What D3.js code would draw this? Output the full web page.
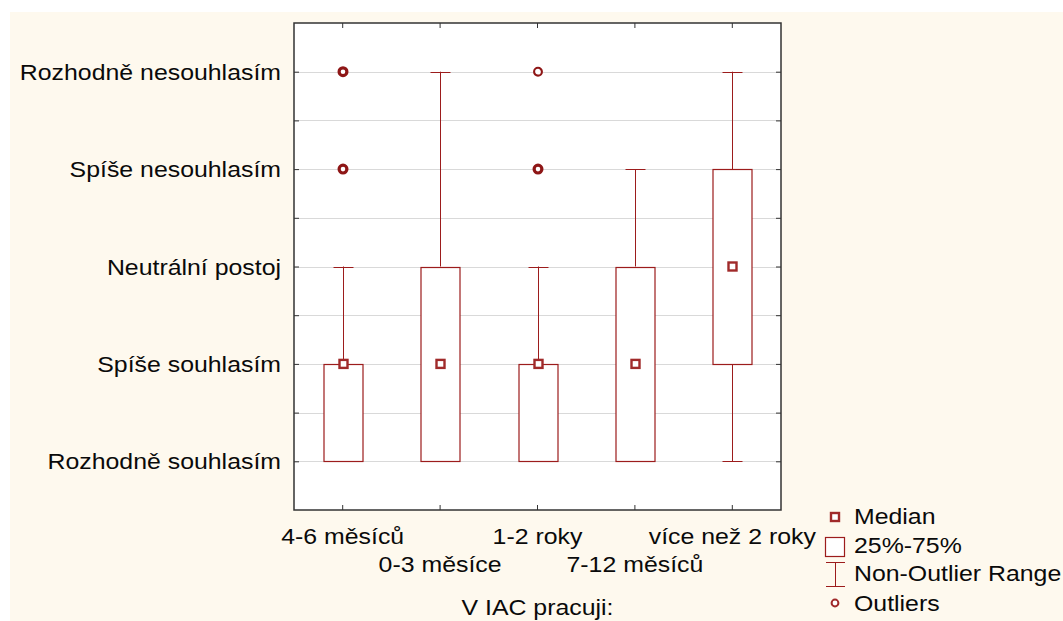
<!DOCTYPE html>
<html>
<head>
<meta charset="utf-8">
<script src="https://cdn.jsdelivr.net/npm/d3@7"></script>
<style>
  body { margin: 0; background: #fff; }
  text { font-family: "Liberation Sans", Arial, sans-serif; fill: #0a0a0a; }
</style>
</head>
<body>
<div id="chart"></div>
<script>
// categories on x, ordinal answers on y (1 = Rozhodně souhlasím ... 5 = Rozhodně nesouhlasím)
var categories = ["4-6 měsíců", "0-3 měsíce", "1-2 roky", "7-12 měsíců", "více než 2 roky"];
var levelLabels = ["Rozhodně souhlasím", "Spíše souhlasím", "Neutrální postoj", "Spíše nesouhlasím", "Rozhodně nesouhlasím"];
var levelValues = [1, 2, 3, 4, 5];
var medians = [2, 2, 2, 2, 3];
var q1 = [1, 1, 1, 1, 2];
var q3 = [2, 3, 2, 3, 4];
var whiskerLow = [1, 1, 1, 1, 1];
var whiskerHigh = [3, 5, 3, 4, 5];
var outliers = [[4, 4, 5, 5], [], [4, 4, 5], [], []];
var legendLabels = ["Median", "25%-75%", "Non-Outlier Range", "Outliers"];
var xTitle = "V IAC pracuji:";

var W = 1063, H = 621;
var margin = { top: 23, right: 282, bottom: 111, left: 294 };
var width = W - margin.left - margin.right;
var height = H - margin.top - margin.bottom;
var red = "#9c1c1c";
var fontSize = 22;
var stretch = 1.13;

var svg = d3.select("#chart").append("svg")
    .attr("width", W)
    .attr("height", H);

svg.append("rect").attr("width", W).attr("height", H).attr("fill", "#fff");
svg.append("rect").attr("x", 10).attr("y", 12).attr("width", W - 10).attr("height", H - 12).attr("fill", "#fef9ee");

var g = svg.append("g")
    .attr("transform", "translate(" + margin.left + "," + margin.top + ")");

var x = d3.scaleBand().domain(categories).range([0, width]).padding(0);
var y = d3.scaleLinear().domain([0.5, 5.5]).range([height, 0]);

g.append("rect").attr("width", width).attr("height", height).attr("fill", "#fff");

// grid every half step
var gridVals = d3.range(1, 5.01, 0.5);
g.selectAll(".grid").data(gridVals).enter().append("line")
    .attr("class", "grid")
    .attr("x1", 0).attr("x2", width)
    .attr("y1", function(d) { return Math.round(y(d)) + 0.5; })
    .attr("y2", function(d) { return Math.round(y(d)) + 0.5; })
    .attr("stroke", "#d9d9d9").attr("stroke-width", 1);

// axes with inward ticks
var tickVals = d3.range(1, 5.01, 0.5);
var axisL = d3.axisLeft(y).tickValues(tickVals).tickSize(-5).tickFormat("");
var axisR = d3.axisRight(y).tickValues(tickVals).tickSize(-5).tickFormat("");
var axisB = d3.axisBottom(x).tickSize(-5).tickFormat("");
var axisT = d3.axisTop(x).tickSize(-5).tickFormat("");
g.append("g").attr("class", "axis").call(axisL);
g.append("g").attr("class", "axis").attr("transform", "translate(" + width + ",0)").call(axisR);
g.append("g").attr("class", "axis").attr("transform", "translate(0," + height + ")").call(axisB);
g.append("g").attr("class", "axis").call(axisT);
g.selectAll(".axis path").remove();
g.selectAll(".axis line").attr("stroke", "#333");
g.append("rect").attr("width", width).attr("height", height)
    .attr("fill", "none").attr("stroke", "#333").attr("stroke-width", 1.5);

function stretchedText(sel, tx, ty, anchor, str) {
    return sel.append("text")
        .attr("transform", "translate(" + tx + "," + ty + ") scale(" + stretch + ",1)")
        .attr("text-anchor", anchor)
        .style("font-size", fontSize + "px")
        .text(str);
}

// y labels
levelValues.forEach(function(v, i) {
    stretchedText(g, -13, y(v) + 8, "end", levelLabels[i]);
});

// x labels, staggered
categories.forEach(function(c, i) {
    var cx = x(c) + x.bandwidth() / 2;
    stretchedText(g, cx, height + (i % 2 === 0 ? 34 : 62), "middle", c);
});
stretchedText(g, width / 2, height + 105, "middle", xTitle);

var boxW = 39, capW = 20;
var data = categories.map(function(c, i) {
    return { cat: c, med: medians[i], q1: q1[i], q3: q3[i], lo: whiskerLow[i], hi: whiskerHigh[i], out: outliers[i] };
});

var boxes = g.selectAll(".box").data(data).enter().append("g")
    .attr("class", "box")
    .attr("transform", function(d) { return "translate(" + (Math.round(x(d.cat) + x.bandwidth() / 2) + 0.5) + ",0)"; });

// whiskers
boxes.append("line")
    .attr("x1", 0).attr("x2", 0)
    .attr("y1", function(d) { return y(d.hi); })
    .attr("y2", function(d) { return y(d.q3); })
    .attr("stroke", red);
boxes.append("line")
    .attr("x1", 0).attr("x2", 0)
    .attr("y1", function(d) { return y(d.q1); })
    .attr("y2", function(d) { return y(d.lo); })
    .attr("stroke", red);
boxes.append("line")
    .attr("x1", -capW / 2).attr("x2", capW / 2)
    .attr("y1", function(d) { return Math.round(y(d.hi)) + 0.5; })
    .attr("y2", function(d) { return Math.round(y(d.hi)) + 0.5; })
    .attr("stroke", red);
boxes.append("line")
    .attr("x1", -capW / 2).attr("x2", capW / 2)
    .attr("y1", function(d) { return Math.round(y(d.lo)) + 0.5; })
    .attr("y2", function(d) { return Math.round(y(d.lo)) + 0.5; })
    .attr("stroke", red);

// box
boxes.append("rect")
    .attr("x", -boxW / 2)
    .attr("y", function(d) { return Math.round(y(d.q3)) + 0.5; })
    .attr("width", boxW)
    .attr("height", function(d) { return Math.round(y(d.q1)) - Math.round(y(d.q3)); })
    .attr("fill", "#fff").attr("stroke", red).attr("stroke-width", 1.2);

// median
boxes.append("rect")
    .attr("x", -4).attr("y", function(d) { return y(d.med) - 4; })
    .attr("width", 8).attr("height", 8)
    .attr("fill", "#fff").attr("stroke", "#a02a2a").attr("stroke-width", 2.4);

// outliers, thicker ring where several answers coincide
boxes.each(function(d) {
    var counts = d3.rollups(d.out, function(v) { return v.length; }, function(v) { return v; });
    d3.select(this).selectAll(".out").data(counts).enter().append("circle")
        .attr("class", "out")
        .attr("cx", -0.5).attr("cy", function(o) { return y(o[0]); })
        .attr("r", 3.9)
        .attr("fill", "#fff").attr("stroke", "#8e1616")
        .attr("stroke-width", function(o) { return o[1] > 1 ? 3.2 : 2.1; });
});

// legend
var lg = svg.append("g").attr("transform", "translate(835,0)");
lg.append("rect").attr("x", -4).attr("y", 513).attr("width", 8).attr("height", 8)
    .attr("fill", "#fff").attr("stroke", "#a02a2a").attr("stroke-width", 2.4);
lg.append("rect").attr("x", -9.5).attr("y", 537.5).attr("width", 19).attr("height", 19)
    .attr("fill", "#fff").attr("stroke", red).attr("stroke-width", 1.2);
lg.append("line").attr("x1", -9).attr("x2", 10).attr("y1", 562.5).attr("y2", 562.5).attr("stroke", red);
lg.append("line").attr("x1", 0.5).attr("x2", 0.5).attr("y1", 562.5).attr("y2", 586.5).attr("stroke", red);
lg.append("line").attr("x1", -9).attr("x2", 10).attr("y1", 586.5).attr("y2", 586.5).attr("stroke", red);
lg.append("circle").attr("cx", 0).attr("cy", 603).attr("r", 3.4)
    .attr("fill", "#fff").attr("stroke", "#a02a2a").attr("stroke-width", 2);
var legendY = [524, 553, 581, 611];
legendLabels.forEach(function(t, i) {
    stretchedText(lg, 19, legendY[i], "start", t);
});
</script>
</body>
</html>
